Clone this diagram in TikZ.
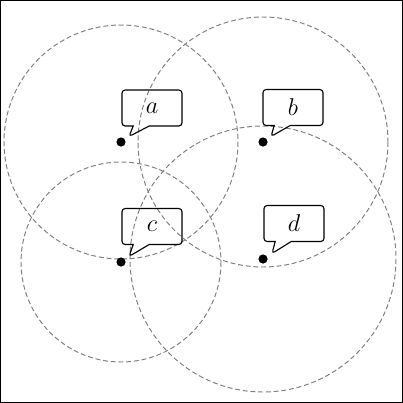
\documentclass[tikz,border=0pt]{standalone}
\usepackage{amssymb}
\usetikzlibrary{shapes.callouts}
\pgfdeclarelayer{edgelayer}
\pgfdeclarelayer{nodelayer}
\pgfsetlayers{edgelayer,nodelayer,main}
\tikzstyle{reach}=[draw=gray, dash pattern=on 3.5pt off 2pt, line width=0.7pt]
\tikzstyle{vertex}=[circle, fill=black, inner sep=0pt, minimum size=0.23cm]
\tikzstyle{bubble}=[rectangle callout, draw=black, line width=0.8pt, rounded corners=0.08cm, minimum width=1.5cm, minimum height=0.9cm, inner sep=0pt, callout pointer width=0.4cm, font=\LARGE]

\begin{document}
\begin{tikzpicture}[x=0.025cm, y=-0.025cm]
	\useasboundingbox (0, 0) rectangle (403, 403);
	\draw [line width=0.8pt] (0.5, 0.5) rectangle (402.5, 402.5);
	\begin{pgfonlayer}{nodelayer}
		\node [style=vertex] (1) at (121, 142) {};
		\node [style=vertex] (2) at (263, 142) {};
		\node [style=vertex] (3) at (121, 262) {};
		\node [style=vertex] (4) at (263, 259) {};
		\node [style=bubble, callout absolute pointer={([shift={(8,-5.5)}]1.center)}] (t1) at (152, 108) {$a$};
		\node [style=bubble, callout absolute pointer={([shift={(8,-5.5)}]2.center)}] (t2) at (293, 107.5) {$b$};
		\node [style=bubble, callout absolute pointer={([shift={(8,-5.5)}]3.center)}] (t3) at (152, 226.5) {$c$};
		\node [style=bubble, callout absolute pointer={([shift={(9,-5.5)}]4.center)}] (t4) at (294, 223.5) {$d$};
	\end{pgfonlayer}
	\begin{pgfonlayer}{edgelayer}
		\draw [style=reach] (1.center) circle (117);
		\draw [style=reach] (2.center) circle (125);
		\draw [style=reach] (3.center) circle (100);
		\draw [style=reach] (4.center) circle (133);
	\end{pgfonlayer}
\end{tikzpicture}
\end{document}
